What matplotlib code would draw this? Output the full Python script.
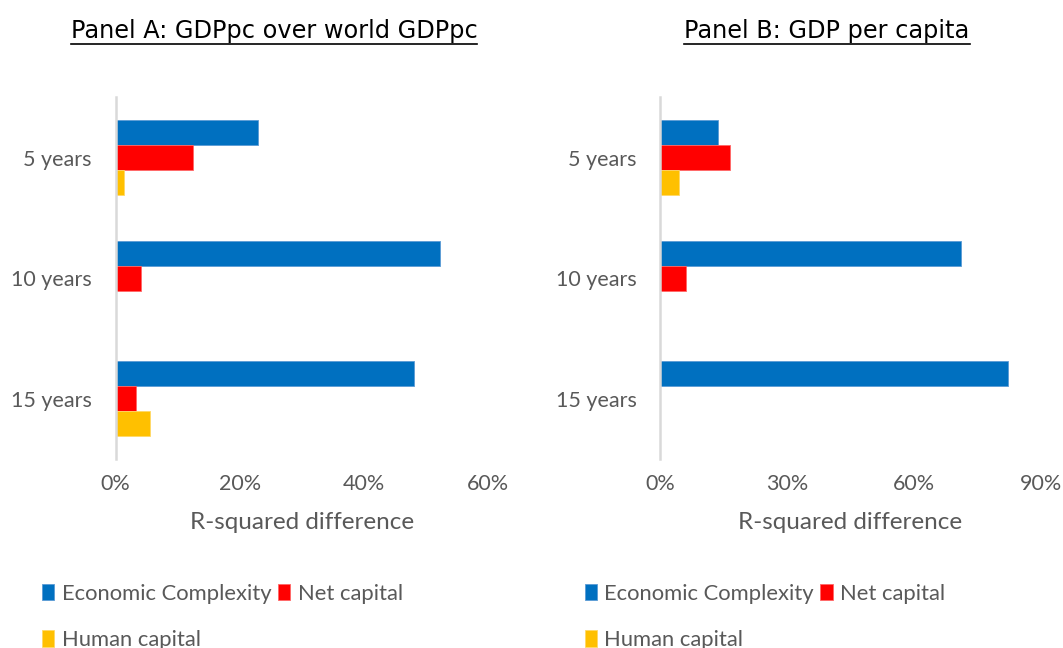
import matplotlib.pyplot as plt
from matplotlib.lines import Line2D
from matplotlib.ticker import FuncFormatter
import numpy as np

horizons = ["5 years", "10 years", "15 years"]
series = ["Economic Complexity", "Net capital", "Human capital"]

# Panel A: GDPpc over world GDPpc (R-squared difference, %)
a_econ = [23.0, 52.2, 48.1]
a_net = [12.5, 4.1, 3.3]
a_human = [1.4, 0.0, 5.6]

# Panel B: GDP per capita
b_econ = [13.8, 71.1, 82.1]
b_net = [16.6, 6.2, 0.0]
b_human = [4.6, 0.0, 0.0]

colors = ["#0070C0", "#FF0000", "#FFC000"]
edges = ["#5B9BD5", "#FF6666", "#FFD966"]
label_font = ["Lato", "DejaVu Sans"]
gray = "#595959"


def draw_panel(ax, vals, xmax, step):
    y = np.arange(len(horizons))
    h = 0.207
    for k, v in enumerate(vals):
        ax.barh(y - h + k * h, v, height=h, color=colors[k],
                edgecolor=edges[k], linewidth=0.6, label=series[k])
    ax.set_ylim(2.5, -0.5)
    ax.set_xlim(0, xmax)
    ax.set_xticks(np.arange(0, xmax + 0.1, step))
    ax.xaxis.set_major_formatter(FuncFormatter(lambda x, p: f"{x:.0f}%"))
    ax.set_yticks(y)
    ax.set_yticklabels(horizons)
    for s in ["top", "right", "bottom"]:
        ax.spines[s].set_visible(False)
    ax.spines["left"].set_color("#D9D9D9")
    ax.spines["left"].set_linewidth(1.8)
    ax.tick_params(length=0, labelsize=15.5, colors=gray)
    ax.tick_params(axis="x", pad=11)
    ax.tick_params(axis="y", pad=17)
    for t in ax.get_xticklabels() + ax.get_yticklabels():
        t.set_family(label_font)
    ax.set_xlabel("R-squared difference", fontsize=17.5, color=gray,
                  family=label_font, labelpad=13)
    handles, labels = ax.get_legend_handles_labels()
    order = [0, 2, 1]
    leg = ax.legend([handles[i] for i in order], [labels[i] for i in order],
                    ncol=2, loc="upper left", bbox_to_anchor=(-0.25, -0.29),
                    frameon=False, handlelength=0.55, handleheight=0.8,
                    handletextpad=0.35, columnspacing=0.3, labelspacing=1.2,
                    prop={"family": label_font, "size": 15.8})
    for t in leg.get_texts():
        t.set_color(gray)


fig = plt.figure(figsize=(10.63, 6.48), dpi=100)
ax1 = fig.add_axes([0.1087, 0.2917, 0.3504, 0.5579])
ax2 = fig.add_axes([0.6209, 0.2917, 0.3584, 0.5579])

draw_panel(ax1, [a_econ, a_net, a_human], 60, 20)
draw_panel(ax2, [b_econ, b_net, b_human], 90, 30)

# underlined panel titles
titles = [("Panel A: GDPpc over world GDPpc", 274 / 1063),
          ("Panel B: GDP per capita", 827 / 1063)]
fig.canvas.draw()
r = fig.canvas.get_renderer()
for txt, xc in titles:
    t = fig.text(xc, 1 - 31 / 648, txt, ha="center", va="center",
                 fontsize=17.3, family="DejaVu Sans", color="black")
    bb = t.get_window_extent(renderer=r).transformed(fig.transFigure.inverted())
    fig.add_artist(Line2D([bb.x0, bb.x1], [bb.y0 - 0.001, bb.y0 - 0.001],
                          transform=fig.transFigure, color="black", lw=1.2))

fig.savefig("out.png", dpi=100)
